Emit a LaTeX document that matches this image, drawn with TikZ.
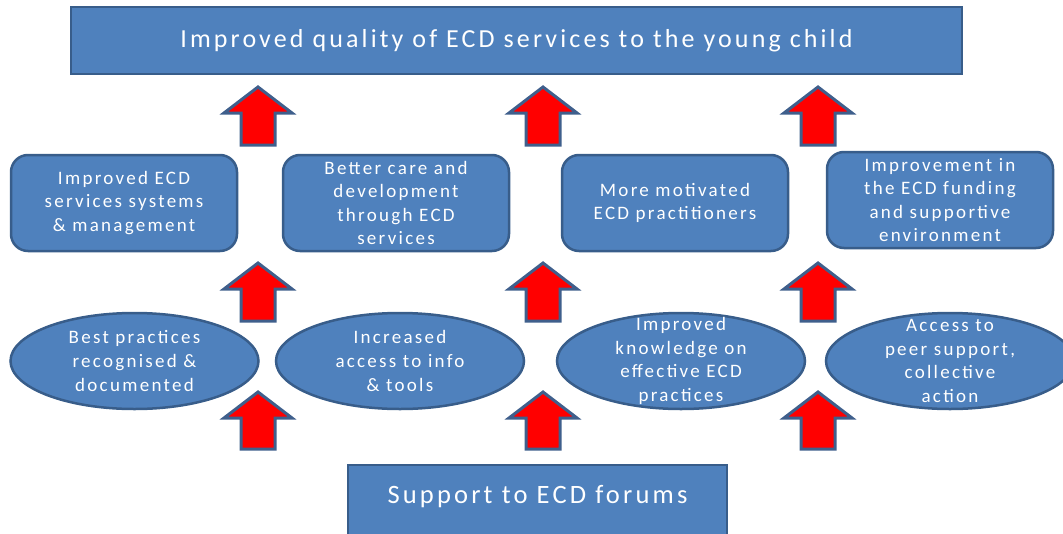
\documentclass[tikz,border=0pt]{standalone}
\usepackage{fontspec}
\setmainfont{Carlito}[LetterSpace=12]
\usetikzlibrary{shapes.geometric}
\definecolor{boxfill}{HTML}{4F81BD}
\definecolor{boxline}{HTML}{385D8A}
\definecolor{arrline}{HTML}{3F5F8C}
\definecolor{arrfill}{HTML}{FF0000}
\newcommand{\redarrow}[3]{%
  \draw[arrstyle] (#1,#2) -- ++(34,26) -- ++(-17,0) |- (#1-17,#3) -- ++(0,-\fpeval{#3-#2-26}) -- ++(-17,0) -- cycle;}
\begin{document}
\begin{tikzpicture}[x=1pt,y=-1pt,
  boxstyle/.style={draw=boxline,fill=boxfill,line width=2.5pt,text=white,align=center,inner sep=0pt},
  sqbox/.style={boxstyle,rectangle},
  rbox/.style={boxstyle,rectangle,rounded corners=17pt,minimum width=226pt,minimum height=96pt},
  ebox/.style={boxstyle,ellipse,minimum width=248pt,minimum height=96pt},
  bodyfont/.style={font=\fontsize{19}{23.6}\selectfont},
  etext/.style={text=white,align=center,inner sep=0pt,bodyfont},
  arrstyle/.style={draw=arrline,fill=arrfill,line width=3pt,line join=miter}]
\useasboundingbox (0,0) rectangle (1063,533);
\begin{scope}
\clip (0,0) rectangle (1063,533);
% top
\node[sqbox,minimum width=891pt,minimum height=67pt,font=\fontsize{26}{30}\selectfont] (top) at (516.5,40.5) {Improved quality of ECD services to the young child};
% rounded boxes
\node[rbox,bodyfont] (r1) at (124,203) {Improved ECD\\services systems\\\& management};
\node[rbox,bodyfont] (r2) at (396,203) {Better care and\\development\\through ECD\\services};
\node[rbox,bodyfont] (r3) at (675,203) {More motivated\\ECD practitioners};
\node[rbox,bodyfont] (r4) at (940,200) {Improvement in\\the ECD funding\\and supportive\\environment};
% ellipses
\node[ebox] (e1) at (134.5,361) {};
\node[ebox] (e2) at (400,361) {};
\node[ebox] (e3) at (681,361) {};
\node[ebox] (e4) at (950,361) {};
\node[etext] (t1) at (e1.center) {Best practices\\recognised \&\\documented};
\node[etext] (t2) at (e2.center) {Increased\\access to info\\\& tools};
\node[etext] (t3) at (e3.center) {Improved\\knowledge on\\effective ECD\\practices};
\node[etext] (t4) at (e4.center) {Access to\\peer support,\\collective\\action};
% bottom
\node[sqbox,minimum width=379pt,minimum height=90pt] (bot) at (537.5,510) {};
\node[text=white,font=\fontsize{26.5}{30}\selectfont] (bottxt) at (537.5,497) {Support to ECD forums};
% arrows
\redarrow{258}{87}{145}
\redarrow{543}{87}{145}
\redarrow{818}{87}{145}
\redarrow{258}{263}{321}
\redarrow{543}{263}{321}
\redarrow{818}{263}{321}
\redarrow{258}{392}{449}
\redarrow{543}{392}{449}
\redarrow{818}{392}{449}
\end{scope}
\end{tikzpicture}
\end{document}
